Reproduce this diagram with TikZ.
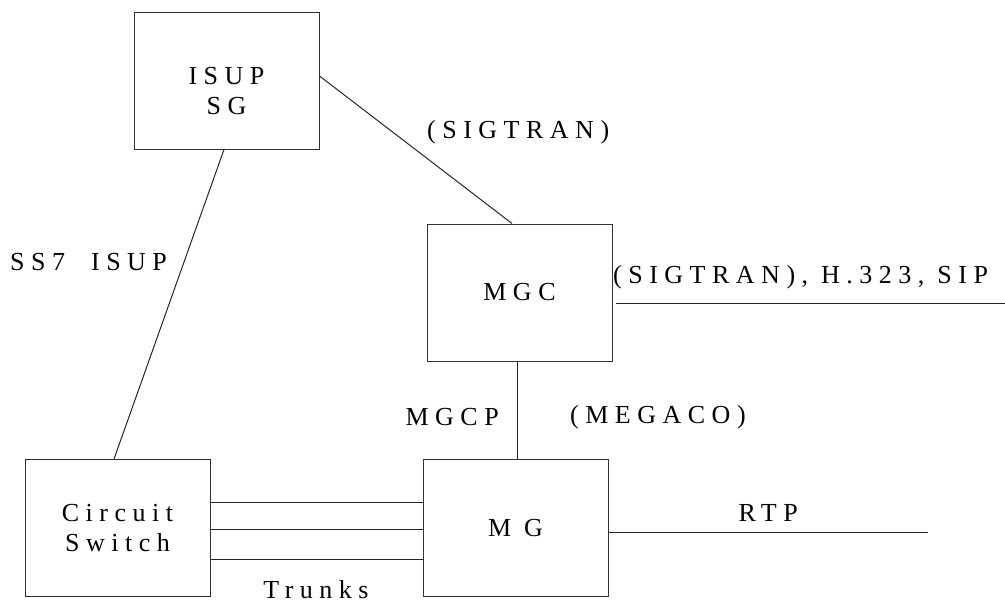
\documentclass[tikz,border=0pt]{standalone}
\usepackage{fontspec}
\setmainfont{Liberation Serif}[LetterSpace=25]
\tikzset{every picture/.style={x=1pt,y=-1pt}}
\tikzstyle{element} =
  [ rectangle
  , draw=black!80
  , line width=1pt
  , minimum width=185pt
  , minimum height=137pt
  , align=center
  , font=\fontsize{26}{30}\selectfont
  ]
\tikzstyle{link} =
  [ draw=black!85
  , line width=1pt
  ]
\tikzstyle{tag} =
  [ font=\fontsize{26}{30}\selectfont
  , inner sep=0pt
  ]

\begin{document}
\begin{tikzpicture}
    \useasboundingbox (0,0) rectangle (1005,603);

    \node[element,text height=69pt] (isup_sg) at (226.5, 80.5) {ISUP\\SG};
    \node[element] (mgc)            at (519.5, 292.5) {MGC};
    \node[element] (circuit_switch) at (117.5, 528)  {Circuit\\Switch};
    \node[element] (mg)             at (515.5, 528)  {M G};

    % signalling flow
    \draw[link] ([xshift=-2.5pt]isup_sg.south) -- ([xshift=-3.5pt]circuit_switch.north);
    \node[tag,anchor=west] (ss7_isup) at (10, 262) {SS7 \ ISUP};
    \draw[link] ([yshift=4.5pt]isup_sg.east) -- ([xshift=-7.5pt]mgc.north);
    \node[tag,anchor=west] (sigtran) at (427, 132) {(SIGTRAN)};

    \coordinate (sip_end) at (1005, 303);
    \draw[link] ([xshift=3pt,yshift=-10.5pt]mgc.east) -- (sip_end);
    \node[tag,anchor=west] (sip) at (613, 277) {(SIGTRAN), H.323, SIP};

    % control of the gateway
    \draw[link] ([xshift=-2.5pt]mgc.south) -- ([xshift=1.5pt]mg.north);
    \node[tag,anchor=east] (mgcp)   at (499, 417) {MGCP};
    \node[tag,anchor=west] (megaco) at (570, 417) {(MEGACO)};

    % media
    \foreach \dy in {26,-1,-31}
        \draw[link] ([yshift=\dy pt]circuit_switch.east) -- ([yshift=\dy pt]mg.west);
    \node[tag] (trunks) at (316, 590) {Trunks};

    \coordinate (rtp_end) at (928, 532);
    \draw[link] ([yshift=-4pt]mg.east) -- node[tag,above=10pt] {RTP} (rtp_end);
\end{tikzpicture}
\end{document}
